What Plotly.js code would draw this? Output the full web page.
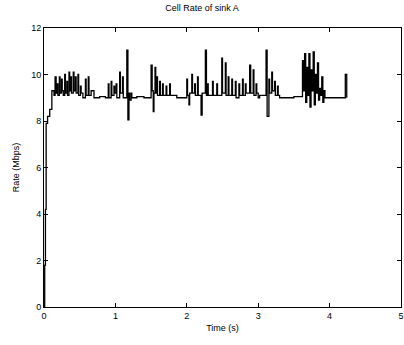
<!DOCTYPE html>
<html>
<head>
<meta charset="utf-8">
<script src="https://cdn.plot.ly/plotly-3.0.1.min.js"></script>
<style>
  html, body { margin: 0; padding: 0; background: #fff; }
  #chart { width: 404px; height: 345px; }
</style>
</head>
<body>
<div id="chart"></div>
<script>
// Cell rate measured at sink A, sampled as a step series (time in s, rate in Mbps)
const timeS = [
  // start-up ramp
  0, 0.01, 0.02, 0.03, 0.05, 0.08, 0.11, 0.14,
  0.155, 0.17, 0.185, 0.195, 0.215, 0.225, 0.245, 0.255, 0.27, 0.29, 0.30, 0.32,
  0.33, 0.35, 0.36, 0.375, 0.385, 0.41, 0.42, 0.44, 0.45, 0.475, 0.485, 0.51,
  0.52, 0.545, 0.58, 0.59, 0.62, 0.63, 0.66,
  0.70, 0.78, 0.86, 0.90, 0.91, 0.94, 0.95, 0.98, 0.99, 1.01, 1.02, 1.06, 1.07, 1.10, 1.11,
  1.16, 1.175, 1.19, 1.20, 1.22, 1.23, 1.30, 1.40,
  1.50, 1.515, 1.53, 1.54, 1.555, 1.565, 1.58, 1.59, 1.62, 1.63, 1.66, 1.67, 1.71, 1.72, 1.76, 1.77,
  1.86, 1.98, 2.00, 2.01, 2.03, 2.04, 2.07, 2.08, 2.11, 2.12, 2.15, 2.16, 2.20, 2.215, 2.26, 2.275, 2.29, 2.30,
  2.36, 2.37, 2.42, 2.43, 2.49, 2.50, 2.54, 2.55, 2.58, 2.59, 2.63, 2.64, 2.68, 2.69, 2.73, 2.74, 2.78, 2.79, 2.82, 2.83,
  2.88, 2.895, 2.93, 2.94, 2.97, 2.98, 3.00, 3.02, 3.11, 3.125, 3.15, 3.16, 3.19, 3.20, 3.23, 3.24, 3.27, 3.28, 3.30,
  3.40, 3.50, 3.62, 3.635, 3.65, 3.665, 3.68, 3.695, 3.71, 3.725, 3.74, 3.755, 3.77, 3.785, 3.80, 3.815,
  3.83, 3.845, 3.86, 3.875, 3.89, 3.905, 3.92, 3.935,
  3.96, 4.05, 4.15, 4.22, 4.24
];
const rateMbps = [
  0, 1.8, 4.2, 7.9, 8.2, 8.5, 9.3, 9.1,
  9.9, 9.2, 9.6, 9.1, 9.9, 9.2, 9.8, 9.3, 9.1, 10.0, 9.2, 9.7,
  9.1, 10.1, 9.3, 9.9, 9.2, 10.1, 9.3, 9.9, 9.2, 10.0, 9.1, 9.5,
  9.2, 9.0, 9.8, 9.1, 9.9, 9.1, 9.3,
  9.0, 9.05, 9.0, 9.6, 9.0, 9.7, 9.1, 9.5, 9.2, 9.6, 9.0, 10.1, 9.2, 9.9, 9.0,
  11.05, 8.05, 9.2, 8.9, 9.2, 9.0, 9.05, 9.0,
  10.4, 9.3, 8.4, 9.2, 10.3, 9.2, 9.9, 9.1, 9.7, 9.1, 9.6, 9.1, 9.5, 9.1, 9.6, 9.1,
  9.0, 9.0, 9.8, 9.1, 8.7, 9.2, 10.0, 9.2, 9.6, 9.1, 9.9, 9.1, 8.25, 9.2, 11.05, 9.1, 9.6, 9.1,
  9.7, 9.1, 9.6, 9.1, 10.7, 9.2, 10.5, 9.1, 9.9, 9.1, 9.8, 9.1, 9.7, 9.0, 9.6, 9.1, 9.8, 9.1, 9.6, 9.2,
  10.4, 9.2, 10.2, 9.1, 9.6, 9.2, 9.0, 9.1, 11.05, 8.2, 9.8, 9.2, 10.1, 9.3, 9.7, 9.1, 9.5, 9.1, 9.0,
  9.0, 9.05, 10.6, 9.3, 10.9, 8.8, 10.3, 9.1, 10.9, 8.6, 10.2, 9.3, 10.97, 8.7, 10.0, 9.2,
  10.5, 8.9, 9.4, 9.1, 9.9, 8.8, 9.3, 9.0,
  9.0, 9.0, 9.0, 10.0, 9.0
];
const xTicks = [0, 1, 2, 3, 4, 5];
const yTicks = [0, 2, 4, 6, 8, 10, 12];

const font = { family: '"Liberation Sans", Arial, sans-serif', size: 9, color: '#000' };

const trace = {
  x: timeS,
  y: rateMbps,
  type: 'scatter',
  mode: 'lines',
  line: { color: '#000', width: 1.3, shape: 'hv' },
  hoverinfo: 'skip'
};

const axisBase = {
  showgrid: false,
  zeroline: false,
  showline: true,
  linecolor: '#000',
  linewidth: 1,
  mirror: 'ticks',
  ticks: 'inside',
  ticklen: 4,
  tickwidth: 1,
  tickcolor: '#000',
  tickfont: font
};

const layout = {
  width: 404,
  height: 345,
  margin: { l: 44, r: 3, t: 28, b: 38 },
  paper_bgcolor: '#fff',
  plot_bgcolor: '#fff',
  showlegend: false,
  font: font,
  title: {
    text: 'Cell Rate of sink A',
    font: { family: font.family, size: 9, color: '#000' },
    x: 0.5, xanchor: 'center',
    y: 0.985, yanchor: 'top'
  },
  xaxis: Object.assign({}, axisBase, {
    range: [0, 5],
    tickvals: xTicks,
    ticktext: xTicks.map(String),
    title: { text: 'Time (s)', font: font, standoff: 4 }
  }),
  yaxis: Object.assign({}, axisBase, {
    range: [0, 12],
    tickvals: yTicks,
    ticktext: yTicks.map(String),
    title: { text: 'Rate (Mbps)', font: font, standoff: 10 }
  })
};

Plotly.newPlot('chart', [trace], layout, { staticPlot: true, displayModeBar: false });
</script>
</body>
</html>
